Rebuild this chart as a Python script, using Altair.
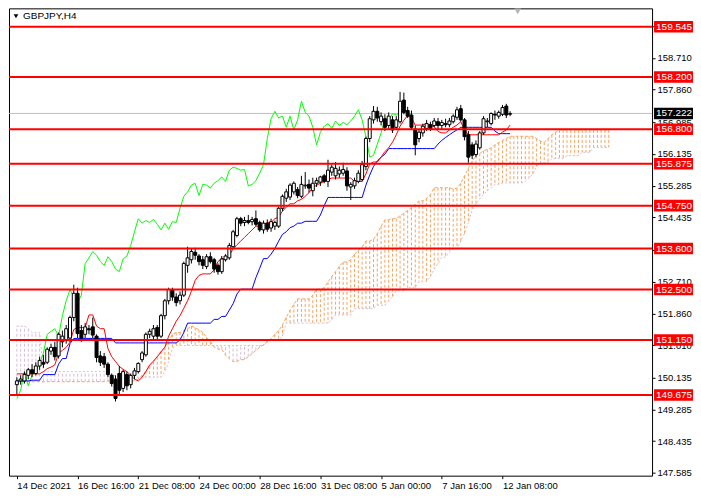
import altair as alt
import pandas as pd

FONT = "Liberation Sans"
W, H = 644, 468

# H4 candles, bar 0 = 14 Dec 2021 00:00
opens = [
    149.95, 150.05, 150.05, 150.20, 150.35, 150.25, 150.45, 150.55, 150.55, 150.85,
    150.95, 150.72, 151.10, 151.15, 151.20, 151.75, 152.40, 151.40, 151.30, 151.45,
    151.50, 151.25, 150.72, 150.70, 150.50, 150.20, 150.10, 150.25, 149.85, 150.22,
    149.95, 150.20, 150.30, 150.62, 150.75, 151.30, 151.25, 151.48, 151.25, 151.80,
    152.20, 152.48, 152.30, 152.20, 152.35, 153.15, 153.30, 153.50, 153.40, 153.30,
    153.12, 153.38, 153.30, 153.15, 152.98, 153.30, 153.35, 153.65, 153.95, 154.40,
    154.30, 154.35, 154.32, 154.40, 154.30, 154.10, 154.28, 154.15, 154.20, 154.20,
    154.68, 154.95, 154.98, 155.12, 155.18, 155.00, 155.28, 155.32, 155.15, 155.35,
    155.38, 155.55, 155.40, 155.65, 155.55, 155.60, 155.62, 155.68, 155.25, 155.28,
    155.40, 155.45, 155.80, 156.55, 157.05, 157.28, 157.00, 157.08, 156.90, 157.05,
    156.85, 157.00, 157.58, 157.30, 157.18, 156.80, 156.55, 156.70, 156.82, 156.92,
    156.90, 157.00, 156.90, 156.95, 156.92, 157.00, 157.12, 157.35, 157.05, 156.65,
    156.38, 156.12, 156.30, 156.70, 157.00, 156.95, 157.20, 157.15, 157.20, 157.42,
    157.20,
]
highs = [
    150.15, 150.20, 150.30, 150.40, 150.50, 150.55, 150.70, 150.75, 150.95, 151.05,
    151.10, 151.35, 151.40, 151.55, 151.80, 152.63, 152.55, 151.55, 151.60, 151.55,
    151.75, 151.30, 150.85, 150.80, 150.55, 150.25, 150.20, 150.45, 150.35, 150.30,
    150.25, 150.40, 150.55, 150.85, 151.35, 151.45, 151.55, 151.55, 151.85, 152.25,
    152.55, 152.55, 152.40, 152.45, 153.25, 153.65, 153.60, 153.62, 153.45, 153.40,
    153.45, 153.50, 153.35, 153.20, 153.40, 153.45, 153.75, 154.10, 154.45, 154.45,
    154.45, 154.50, 154.45, 154.62, 154.35, 154.35, 154.38, 154.40, 154.35, 154.72,
    155.05, 155.20, 155.35, 155.40, 155.25, 155.55, 155.65, 155.45, 155.50, 155.50,
    155.55, 155.60, 155.98, 155.85, 155.92, 155.80, 155.90, 155.78, 155.38, 155.50,
    155.70, 155.95, 156.60, 157.15, 157.42, 157.40, 157.25, 157.20, 157.25, 157.15,
    157.15, 157.80, 157.78, 157.40, 157.30, 156.90, 156.80, 156.95, 157.05, 157.00,
    157.10, 157.10, 157.05, 157.08, 157.10, 157.20, 157.40, 157.45, 157.10, 156.75,
    156.45, 156.50, 156.75, 157.15, 157.10, 157.25, 157.30, 157.30, 157.45, 157.48,
    157.28,
]
lows = [
    149.70, 149.95, 149.98, 150.10, 150.15, 150.20, 150.35, 150.40, 150.50, 150.75,
    150.60, 150.65, 150.95, 151.05, 151.10, 151.65, 151.20, 151.10, 151.20, 151.30,
    151.20, 150.55, 150.45, 150.40, 150.15, 149.90, 149.50, 149.70, 149.75, 149.80,
    149.85, 150.10, 150.25, 150.55, 150.70, 151.20, 151.15, 151.15, 151.20, 151.70,
    152.10, 152.20, 152.05, 152.10, 152.30, 152.95, 153.20, 153.30, 153.15, 153.05,
    153.05, 153.20, 152.95, 152.90, 152.92, 153.25, 153.30, 153.60, 153.90, 154.20,
    154.20, 154.25, 154.22, 154.20, 154.05, 154.00, 154.05, 154.05, 154.10, 154.15,
    154.60, 154.85, 154.90, 155.05, 154.95, 154.95, 155.20, 155.10, 155.00, 155.25,
    155.28, 155.35, 155.25, 155.55, 155.45, 155.50, 155.55, 155.15, 154.90, 155.20,
    155.35, 155.40, 155.70, 156.45, 156.95, 157.00, 156.90, 156.75, 156.80, 156.70,
    156.80, 156.95, 157.20, 157.10, 156.80, 156.10, 156.45, 156.60, 156.75, 156.75,
    156.85, 156.80, 156.80, 156.85, 156.85, 156.95, 157.05, 157.00, 156.50, 155.90,
    156.00, 156.05, 156.25, 156.65, 156.85, 156.90, 157.05, 157.08, 157.15, 157.10,
    157.15,
]
closes = [
    150.05, 150.10, 150.22, 150.35, 150.25, 150.45, 150.60, 150.50, 150.90, 150.95,
    150.70, 151.30, 151.25, 151.45, 151.75, 152.40, 151.32, 151.20, 151.50, 151.42,
    151.28, 150.68, 150.55, 150.50, 150.22, 149.98, 149.58, 149.80, 150.30, 149.92,
    150.20, 150.32, 150.52, 150.80, 151.30, 151.38, 151.45, 151.25, 151.80, 152.20,
    152.50, 152.30, 152.15, 152.35, 153.20, 153.35, 153.52, 153.42, 153.25, 153.15,
    153.38, 153.25, 153.05, 152.98, 153.32, 153.40, 153.68, 154.05, 154.40, 154.28,
    154.35, 154.30, 154.38, 154.25, 154.10, 154.28, 154.12, 154.32, 154.30, 154.68,
    155.00, 155.12, 155.30, 155.35, 155.02, 155.32, 155.30, 155.22, 155.35, 155.42,
    155.52, 155.40, 155.70, 155.78, 155.75, 155.70, 155.72, 155.28, 155.32, 155.42,
    155.62, 155.85, 156.55, 157.08, 157.28, 157.10, 157.15, 156.85, 157.15, 156.78,
    157.05, 157.55, 157.25, 157.15, 156.85, 156.38, 156.72, 156.88, 156.95, 156.82,
    157.02, 156.90, 156.98, 156.92, 157.02, 157.15, 157.32, 157.05, 156.60, 156.05,
    156.10, 156.40, 156.70, 157.08, 157.02, 157.22, 157.18, 157.25, 157.38, 157.18,
    157.22,
]

# Ichimoku lines
tenkan = [
    150.24, 150.24, 150.24, 150.24, 150.24, 150.24, 150.24, 150.30, 150.38, 150.42,
    150.48, 150.79, 150.87, 150.95, 151.09, 151.43, 151.48, 151.48, 151.48, 151.82,
    151.82, 151.52, 151.45, 151.45, 150.92, 150.70, 150.57, 150.44, 150.36, 150.30,
    150.20, 150.10, 150.05, 150.15, 150.30, 150.48, 150.58, 150.70, 150.83, 150.95,
    151.25, 151.45, 151.65, 151.80, 152.00, 152.20, 152.45, 152.75, 152.88, 152.92,
    152.92, 152.92, 153.03, 153.25, 153.33, 153.33, 153.42, 153.59, 153.70, 153.80,
    153.90, 154.00, 154.10, 154.20, 154.20, 154.25, 154.29, 154.30, 154.40, 154.45,
    154.60, 154.71, 154.80, 154.80, 154.88, 154.92, 155.00, 155.10, 155.23, 155.30,
    155.35, 155.40, 155.45, 155.49, 155.49, 155.49, 155.49, 155.49, 155.49, 155.40,
    155.40, 155.40, 155.60, 155.87, 155.92, 155.92, 156.05, 156.20, 156.30, 156.45,
    156.65, 156.88, 157.04, 157.17, 157.10, 156.91, 156.91, 156.91, 156.96, 156.90,
    156.87, 156.74, 156.70, 156.70, 156.78, 156.85, 156.91, 157.00, 156.78, 156.65,
    156.65, 156.65, 156.65, 156.65, 156.65, 156.65, 156.65, 156.65, 156.72, 156.78,
    156.91,
]
kijun = [
    150.05, 150.05, 150.05, 150.05, 150.07, 150.07, 150.07, 150.22, 150.22, 150.22,
    150.22, 150.50, 150.65, 150.65, 151.05, 151.19, 151.19, 151.19, 151.19, 151.19,
    151.19, 151.19, 151.19, 151.19, 151.19, 151.19, 151.07, 151.07, 151.07, 151.07,
    151.07, 151.07, 151.07, 151.07, 151.07, 151.07, 151.07, 151.07, 151.07, 151.07,
    151.07, 151.07, 151.07, 151.15, 151.35, 151.60, 151.60, 151.60, 151.60, 151.60,
    151.60, 151.60, 151.70, 151.70, 151.78, 151.78, 151.95, 152.12, 152.38, 152.51,
    152.51, 152.51, 152.51, 152.82, 153.07, 153.33, 153.33, 153.45, 153.60, 153.80,
    153.98, 154.05, 154.16, 154.20, 154.28, 154.28, 154.33, 154.33, 154.33, 154.33,
    154.50, 154.75, 154.97, 154.97, 154.97, 154.97, 154.97, 154.97, 154.97, 154.97,
    154.97, 154.97, 155.30, 155.57, 155.80, 155.95, 156.05, 156.13, 156.28, 156.28,
    156.28, 156.28, 156.28, 156.28, 156.28, 156.28, 156.28, 156.28, 156.28, 156.28,
    156.28, 156.40, 156.50, 156.58, 156.65, 156.72, 156.78, 156.85, 156.85, 156.85,
    156.85, 156.85, 156.85, 156.85, 156.85, 156.85, 156.75, 156.68, 156.68, 156.68,
    156.68,
]
span_a = [
    150.03, 150.03, 150.03, 150.03, 150.03, 150.03, 150.03, 150.03, 150.03, 150.03,
    150.03, 150.03, 150.03, 150.03, 150.03, 150.03, 150.03, 150.03, 150.03, 150.03,
    150.03, 150.03, 150.03, 150.03, 150.05, 150.05, 150.05, 150.05, 150.05, 150.05,
    150.05, 150.05, 150.10, 150.20, 150.31, 150.45, 150.57, 150.70, 150.85, 150.96,
    151.10, 151.30, 151.35, 151.35, 151.40, 151.45, 151.52, 151.48, 151.42, 151.35,
    151.22, 151.10, 150.96, 150.90, 150.90, 150.74, 150.65, 150.57, 150.57, 150.62,
    150.62, 150.70, 150.78, 150.87, 150.95, 151.02, 151.09, 151.18, 151.30, 151.40,
    151.55, 151.75, 151.95, 152.10, 152.25, 152.25, 152.25, 152.25, 152.35, 152.51,
    152.51, 152.55, 152.70, 152.85, 152.98, 153.12, 153.24, 153.24, 153.30, 153.45,
    153.55, 153.65, 153.80, 153.80, 153.85, 154.00, 154.20, 154.37, 154.37, 154.40,
    154.40, 154.48, 154.55, 154.62, 154.70, 154.78, 154.88, 154.88, 154.95, 155.05,
    155.23, 155.23, 155.23, 155.23, 155.23, 155.20, 155.22, 155.35, 155.55, 155.75,
    155.95, 156.09, 156.15, 156.22, 156.26, 156.30, 156.38, 156.44, 156.50, 156.55,
    156.61, 156.61, 156.61, 156.61, 156.61, 156.61, 156.61, 156.55, 156.48, 156.45,
    156.55, 156.65, 156.72, 156.78, 156.78, 156.78, 156.78, 156.78, 156.78, 156.78,
    156.78, 156.78, 156.78, 156.78, 156.78, 156.78, 156.78,
]
span_b = [
    151.52, 151.52, 151.52, 151.45, 151.35, 151.35, 151.35, 150.30, 150.30, 150.30,
    150.30, 150.30, 150.30, 150.30, 150.30, 150.30, 150.30, 150.30, 150.30, 150.30,
    150.30, 150.30, 150.30, 150.30, 150.30, 150.20, 150.20, 150.20, 150.20, 150.20,
    150.20, 150.15, 150.15, 150.15, 150.15, 150.15, 150.15, 150.15, 150.15, 150.30,
    150.57, 150.92, 151.00, 151.00, 151.00, 151.00, 151.00, 151.00, 151.00, 151.00,
    151.00, 151.00, 151.00, 151.00, 151.00, 151.00, 151.00, 151.00, 151.00, 151.00,
    151.00, 151.00, 151.00, 151.00, 151.00, 151.00, 151.13, 151.13, 151.13, 151.13,
    151.26, 151.60, 151.60, 151.60, 151.60, 151.60, 151.60, 151.60, 151.60, 151.60,
    151.60, 151.60, 151.60, 151.70, 151.82, 151.82, 151.82, 151.82, 151.82, 151.99,
    151.99, 151.99, 151.99, 151.99, 151.99, 152.08, 152.08, 152.08, 152.20, 152.30,
    152.47, 152.47, 152.47, 152.55, 152.55, 152.55, 152.72, 152.72, 152.72, 152.85,
    153.05, 153.20, 153.37, 153.37, 153.50, 153.59, 153.59, 153.80, 154.00, 154.30,
    154.63, 154.80, 154.93, 155.05, 155.15, 155.23, 155.32, 155.32, 155.36, 155.36,
    155.36, 155.36, 155.36, 155.36, 155.40, 155.50, 155.60, 155.80, 155.90, 155.90,
    155.90, 156.01, 156.01, 156.01, 156.01, 156.09, 156.09, 156.09, 156.09, 156.18,
    156.18, 156.18, 156.31, 156.31, 156.31, 156.31, 156.31,
]

levels = [159.545, 158.200, 156.800, 155.875, 154.750, 153.600, 152.500, 151.150, 149.675]
last_price = 157.222
price_ticks = [147.585, 148.435, 149.285, 150.135, 151.010, 151.860, 152.710, 153.560,
               154.435, 155.285, 156.135, 156.985, 157.860, 158.710, 159.545]
date_labels = ["14 Dec 2021", "16 Dec 16:00", "21 Dec 08:00", "24 Dec 00:00", "28 Dec 16:00",
               "31 Dec 08:00", "5 Jan 00:00", "7 Jan 16:00", "12 Jan 08:00"]
shift_bar = 132

bars = pd.DataFrame({"i": range(len(closes)), "open": opens, "high": highs, "low": lows,
                     "close": closes, "tenkan": tenkan, "kijun": kijun})
cloud = pd.DataFrame({"i": range(len(span_a)), "a": span_a, "b": span_b})
chikou = pd.DataFrame({"i": bars["i"] - 26, "v": bars["close"]})
chikou = chikou[chikou["i"] >= 0]
lv = pd.DataFrame({"level": levels})
lp = pd.DataFrame({"level": [last_price]})

xs = alt.Scale(domain=[-0.76, 166.1], nice=False, zero=False)
ys = alt.Scale(domain=[147.51, 160.04], nice=False, zero=False)

label_list = "[" + ",".join("'%s'" % s for s in date_labels) + "]"
x_axis = alt.Axis(values=[16 * k for k in range(len(date_labels))],
                  labelExpr=label_list + "[round(datum.value / 16)]",
                  title=None, grid=False, domain=False, tickSize=3, tickColor="black",
                  labelAlign="left", labelFlush=False, labelOverlap=False, labelPadding=2,
                  labelFont=FONT, labelFontSize=9.5, labelColor="black")
y_axis = alt.Axis(orient="right", values=price_ticks, format=".3f", title=None, grid=False,
                  domain=False, tickSize=3, tickColor="black", labelPadding=2,
                  labelOverlap=False, labelFlush=False,
                  labelFont=FONT, labelFontSize=9.5, labelColor="black")

X = alt.X("i:Q", scale=xs, axis=x_axis)


def Y(field):
    return alt.Y(field + ":Q", scale=ys, axis=y_axis)


# cloud hatching, sandy when span A is on top, thistle otherwise
hatch = alt.Chart(cloud).mark_rule(strokeDash=[3, 2], strokeWidth=1).encode(
    x=X, y=Y("a"), y2="b:Q",
    color=alt.condition("datum.a >= datum.b", alt.value("#F4A460"), alt.value("#D8BFD8")),
)
line_b = alt.Chart(cloud).mark_line(color="#D8BFD8", strokeDash=[2, 2], strokeWidth=1).encode(x=X, y=Y("b"))
line_a = alt.Chart(cloud).mark_line(color="#F4A460", strokeDash=[3, 2], strokeWidth=1).encode(x=X, y=Y("a"))

price_line = alt.Chart(lp).mark_rule(color="#C0C0C0", strokeWidth=1).encode(y=Y("level"))

lag = alt.Chart(chikou).mark_line(color="#00FF00", strokeWidth=1).encode(x=X, y=Y("v"))
base_line = alt.Chart(bars).mark_line(color="#0000FF", strokeWidth=1).encode(x=X, y=Y("kijun"))
conv_line = alt.Chart(bars).mark_line(color="#FF0000", strokeWidth=1).encode(x=X, y=Y("tenkan"))

wicks = alt.Chart(bars).mark_rule(color="black", strokeWidth=1).encode(x=X, y=Y("low"), y2="high:Q")
bodies = alt.Chart(bars).mark_bar(size=3, stroke="black", strokeWidth=1).encode(
    x=X, y=Y("open"), y2="close:Q",
    fill=alt.condition("datum.close >= datum.open", alt.value("white"), alt.value("black")),
)

level_lines = alt.Chart(lv).mark_rule(color="#FF0000", strokeWidth=2).encode(y=Y("level"))
level_box = alt.Chart(lv).transform_calculate(
    lo="datum.level - 0.155", hi="datum.level + 0.155"
).mark_rect(color="#FF0000").encode(
    x=alt.value(W + 2), x2=alt.value(W + 41), y=Y("lo"), y2="hi:Q"
)
level_text = alt.Chart(lv).mark_text(align="left", baseline="middle", font=FONT, fontSize=10,
                                     color="white").encode(
    x=alt.value(W + 4), y=Y("level"), text=alt.Text("level:Q", format=".3f")
)
last_box = alt.Chart(lp).transform_calculate(
    lo="datum.level - 0.155", hi="datum.level + 0.155"
).mark_rect(color="black").encode(
    x=alt.value(W + 2), x2=alt.value(W + 41), y=Y("lo"), y2="hi:Q"
)
last_text = alt.Chart(lp).mark_text(align="left", baseline="middle", font=FONT, fontSize=10,
                                    color="white").encode(
    x=alt.value(W + 4), y=Y("level"), text=alt.Text("level:Q", format=".3f")
)

title_df = pd.DataFrame({"t": ["GBPJPY,H4"]})
title_mark = alt.Chart(title_df).mark_point(shape="triangle-down", filled=True, color="black",
                                            size=22, opacity=1).encode(
    x=alt.value(7), y=alt.value(8)
)
title_text = alt.Chart(title_df).mark_text(align="left", baseline="middle", font=FONT,
                                           fontSize=10, color="black").encode(
    x=alt.value(14), y=alt.value(8), text="t:N"
)
shift_df = pd.DataFrame({"i": [shift_bar]})
shift_mark = alt.Chart(shift_df).mark_point(shape="triangle-down", filled=True, color="#B4B4B4",
                                            size=45, opacity=1).encode(
    x=X, y=alt.value(3)
)

chart = alt.layer(
    hatch, line_b, line_a, price_line, lag, base_line, conv_line, wicks, bodies,
    level_lines, level_box, level_text, last_box, last_text,
    title_mark, title_text, shift_mark,
).properties(
    width=W, height=H, background="white",
    padding={"left": 0, "top": 0, "right": 0, "bottom": 0},
).configure_view(stroke="black", strokeWidth=1)

chart.save("out.html", embed_options={"renderer": "svg", "actions": False})
